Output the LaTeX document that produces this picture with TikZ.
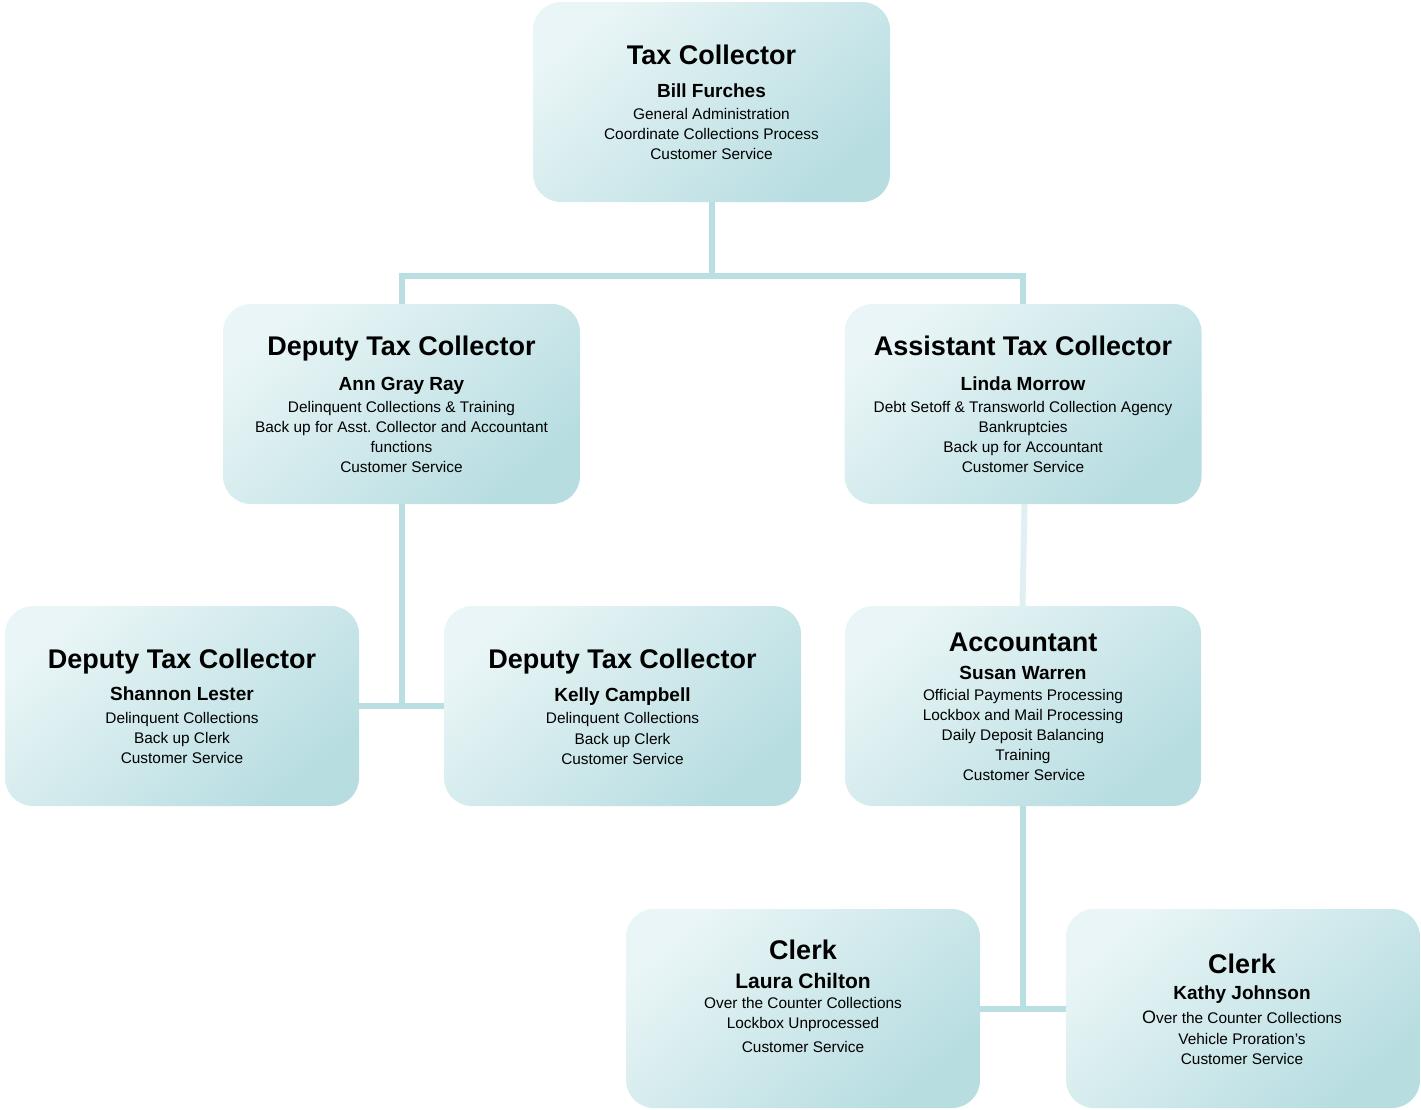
\documentclass[tikz,border=0pt]{standalone}
\usepackage{fontspec}
\setmainfont{Liberation Sans}
\definecolor{boxlight}{RGB}{233,245,246}
\definecolor{boxmid}{RGB}{220,238,240}
\definecolor{boxdark}{RGB}{183,221,225}
\definecolor{conncol}{RGB}{185,223,227}
\definecolor{connlight}{RGB}{224,240,242}
\tikzset{
  orgbox/.style={rectangle, rounded corners=28pt, minimum width=357pt, minimum height=200pt,
    inner sep=0pt, draw=none, top color=boxlight, middle color=boxmid, bottom color=boxdark, shading angle=40},
  conn/.style={draw=conncol, line width=6pt},
  connl/.style={draw=connlight, line width=6pt},
  ttl/.style={anchor=base, inner sep=0pt, font=\fontsize{27}{30}\selectfont\bfseries},
  nm/.style={anchor=base, inner sep=0pt, font=\fontsize{19}{22}\selectfont\bfseries},
  bd/.style={anchor=base, inner sep=0pt, font=\fontsize{15.4}{18}\selectfont},
}
\begin{document}
\begin{tikzpicture}[x=1pt,y=-1pt]
\useasboundingbox (0,0) rectangle (1421,1109);
% boxes
\node[orgbox] (tc) at (711.5,102) {};
\node[orgbox] (dep) at (401.5,404) {};
\node[orgbox] (ast) at (1023,404) {};
\node[orgbox, minimum width=354pt] (sl) at (182,706) {};
\node[orgbox] (kc) at (622.5,706) {};
\node[orgbox, minimum width=356pt] (acc) at (1023,706) {};
\node[orgbox, minimum width=354pt, minimum height=199pt] (lc) at (803,1008.5) {};
\node[orgbox, minimum width=354pt, minimum height=199pt] (kj) at (1243,1008.5) {};
% connectors
\draw[conn] (tc.south) -- ++(0,74) coordinate (j1);
\draw[conn] (dep.north) |- (j1) -| (ast.north);
\draw[conn] (dep.south) -- (dep.south |- sl.east);
\draw[conn] (sl.east) -- (kc.west);
\draw[connl] ([xshift=1.5pt]ast.south) -- ([xshift=-0.5pt]acc.north);
\draw[conn] (acc.south) -- (acc.south |- lc.east);
\draw[conn] (lc.east) -- (kj.west);
% Tax Collector
\node[ttl] (tc1) at (711.5,64.5) {Tax Collector};
\node[nm] (tc2) at (711.5,97) {Bill Furches};
\node[bd] (tc3) at (711.5,119.5) {General Administration};
\node[bd] (tc4) at (711.5,139.5) {Coordinate Collections Process};
\node[bd] (tc5) at (711.5,159.5) {Customer Service};
% Deputy Ann
\node[ttl] (dep1) at (401.5,355.5) {Deputy Tax Collector};
\node[nm] (dep2) at (401.5,390) {Ann Gray Ray};
\node[bd] (dep3) at (401.5,412.5) {Delinquent Collections \& Training};
\node[bd] (dep4) at (401.5,432.5) {Back up for Asst.\ Collector and Accountant};
\node[bd] (dep5) at (401.5,452.5) {functions};
\node[bd] (dep6) at (401.5,472.5) {Customer Service};
% Assistant
\node[ttl] (ast1) at (1023,355.5) {Assistant Tax Collector};
\node[nm] (ast2) at (1023,390) {Linda Morrow};
\node[bd] (ast3) at (1023,412.5) {Debt Setoff \& Transworld Collection Agency};
\node[bd] (ast4) at (1023,432.5) {Bankruptcies};
\node[bd] (ast5) at (1023,452.5) {Back up for Accountant};
\node[bd] (ast6) at (1023,472.5) {Customer Service};
% Shannon
\node[ttl] (sl1) at (182,668) {Deputy Tax Collector};
\node[nm] (sl2) at (182,700.5) {Shannon Lester};
\node[bd] (sl3) at (182,723.5) {Delinquent Collections};
\node[bd] (sl4) at (182,743.5) {Back up Clerk};
\node[bd] (sl5) at (182,763.5) {Customer Service};
% Kelly
\node[ttl] (kc1) at (622.5,668) {Deputy Tax Collector};
\node[nm] (kc2) at (622.5,701.5) {Kelly Campbell};
\node[bd] (kc3) at (622.5,723.5) {Delinquent Collections};
\node[bd] (kc4) at (622.5,744) {Back up Clerk};
\node[bd] (kc5) at (622.5,764.5) {Customer Service};
% Accountant
\node[ttl] (acc1) at (1023,651.5) {Accountant};
\node[nm] (acc2) at (1023,679) {Susan Warren};
\node[bd] (acc3) at (1023,700) {Official Payments Processing};
\node[bd] (acc4) at (1023,720) {Lockbox and Mail Processing};
\node[bd] (acc5) at (1023,740) {Daily Deposit Balancing};
\node[bd] (acc6) at (1023,760) {Training};
\node[bd] (acc7) at (1024,780) {Customer Service};
% Laura
\node[ttl] (lc1) at (803,959) {Clerk};
\node[nm, font=\fontsize{21}{24}\selectfont\bfseries] (lc2) at (803,988.5) {Laura Chilton};
\node[bd] (lc3) at (803,1008.5) {Over the Counter Collections};
\node[bd] (lc4) at (803,1028.5) {Lockbox Unprocessed};
\node[bd] (lc5) at (803,1052.5) {Customer Service};
% Kathy
\node[ttl] (kj1) at (1242,973) {Clerk};
\node[nm] (kj2) at (1242,999) {Kathy Johnson};
\node[bd] (kj3) at (1242,1023.5) {{\fontsize{18}{20}\selectfont O}ver the Counter Collections};
\node[bd] (kj4) at (1242,1044.5) {Vehicle Proration's};
\node[bd] (kj5) at (1242,1064.5) {Customer Service};
\end{tikzpicture}
\end{document}
